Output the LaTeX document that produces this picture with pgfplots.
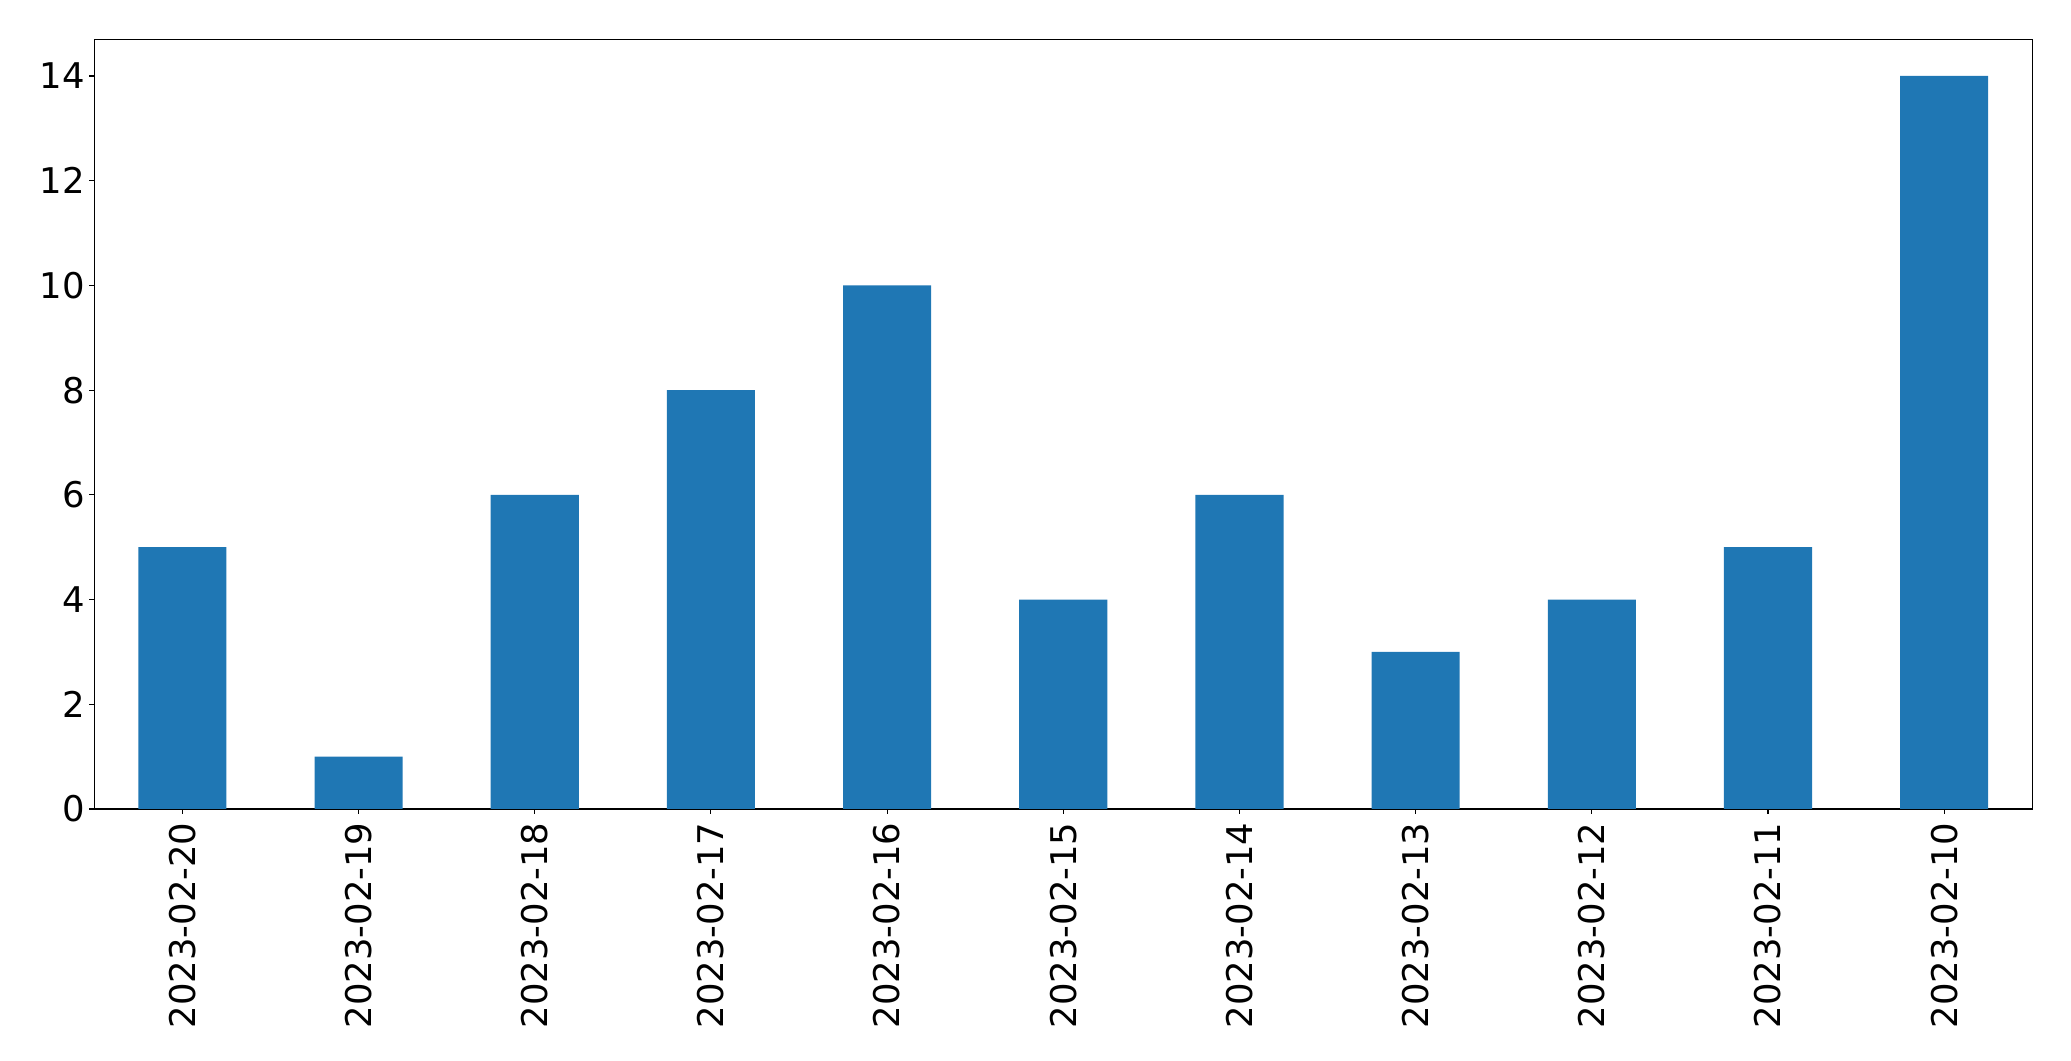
\documentclass[border=0pt]{standalone}
\usepackage{fontspec}
\setmainfont{DejaVu Sans}
\usepackage{pgfplots}
\pgfplotsset{compat=1.18}
\definecolor{mplblue}{HTML}{1F77B4}
\begin{document}
\begin{tikzpicture}
\begin{axis}[
  at={(0,0)}, anchor=south west,
  scale only axis,
  width=1395.4pt, height=554.2pt,
  xmin=-0.5, xmax=10.5,
  ymin=0, ymax=14.7,
  axis line style={line width=0.8pt},
  tick style={line width=0.8pt, black},
  major tick length=3.5pt,
  tick align=outside,
  xtick pos=bottom, ytick pos=left,
  xtick={0,1,2,3,4,5,6,7,8,9,10},
  xticklabels={2023-02-20,2023-02-19,2023-02-18,2023-02-17,2023-02-16,2023-02-15,2023-02-14,2023-02-13,2023-02-12,2023-02-11,2023-02-10},
  ytick={0,2,4,6,8,10,12,14},
  /pgf/number format/assume math mode=true,
  ticklabel style={font=\fontsize{25.5}{30}\selectfont},
  xticklabel style={yshift=-6pt, rotate=90, anchor=east, inner sep=0pt},
  yticklabel style={anchor=east, inner sep=0pt, xshift=-3pt},
  ybar, bar width=0.5,
]
\addplot[fill=mplblue, draw=none] coordinates {
(0,5) (1,1) (2,6) (3,8) (4,10) (5,4) (6,6) (7,3) (8,4) (9,5) (10,14)
};
\end{axis}
\path (-67.9pt,-181.4pt) rectangle (1423.3pt,582.5pt);
\end{tikzpicture}
\end{document}
